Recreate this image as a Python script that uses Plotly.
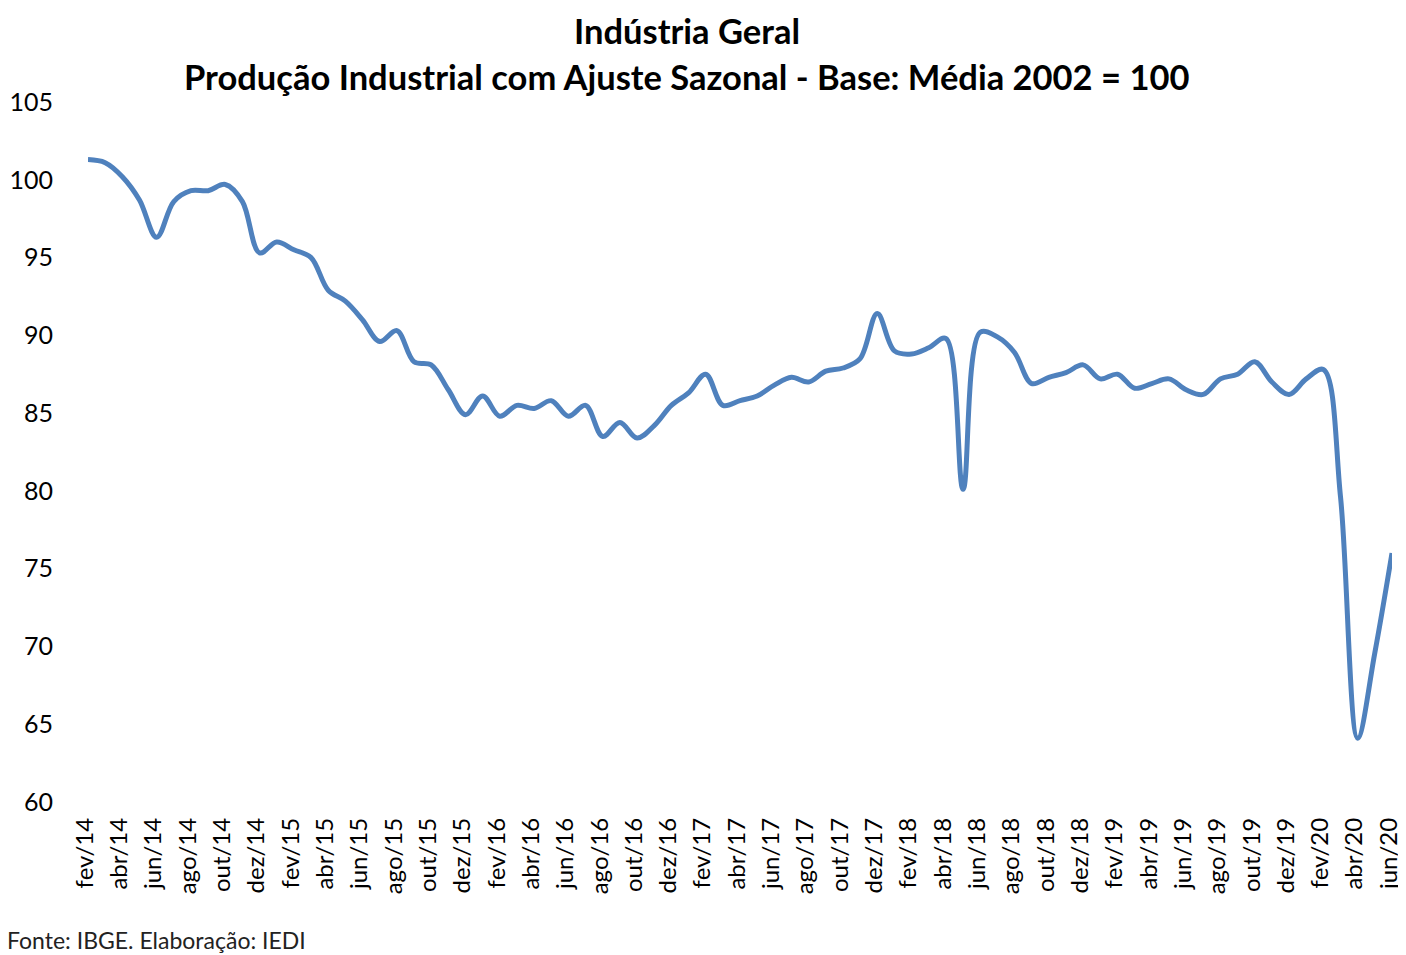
import plotly.graph_objects as go

# meses (fev/14 .. jun/20)
meses = ['jan', 'fev', 'mar', 'abr', 'mai', 'jun', 'jul', 'ago', 'set', 'out', 'nov', 'dez']
anos = ['14', '15', '16', '17', '18', '19', '20']

labels = []
for a in anos:
    for m in meses:
        labels.append(m + '/' + a)
labels = labels[1:labels.index('jun/20') + 1]

# indice de producao industrial com ajuste sazonal (media 2002 = 100)
valores = [
    101.3, 101.1, 100.2, 98.7, 96.3, 98.6, 99.3, 99.3, 99.7, 98.6, 95.3,   # 2014
    96.0, 95.5, 95.0, 92.9, 92.2, 91.0, 89.6, 90.3, 88.3, 88.1, 86.5, 84.9,  # 2015
    86.1, 84.8, 85.5, 85.3, 85.8, 84.8, 85.5, 83.5, 84.4, 83.4, 84.2, 85.5,  # 2016
    86.3, 87.5, 85.5, 85.8, 86.1, 86.8, 87.3, 87.0, 87.7, 87.9, 88.5, 91.4,  # 2017
    89.0, 88.8, 89.2, 89.8, 80.1, 90.2, 89.9, 88.9, 86.9, 87.3, 87.6, 88.1,  # 2018
    87.2, 87.5, 86.6, 86.9, 87.2, 86.5, 86.2, 87.2, 87.5, 88.3, 87.0, 86.2,  # 2019
    87.2, 87.8, 79.6, 64.1, 69.6, 76.0,                                      # 2020
]

fonte = 'Lato'

fig = go.Figure()
fig.add_trace(go.Scatter(
    x=labels, y=valores, mode='lines',
    line=dict(color='#4F81BD', width=5, shape='spline', smoothing=1),
    showlegend=False,
))

fig.update_xaxes(
    type='category', range=[0, len(labels) - 1], automargin=False,
    tickmode='array', tickvals=labels[::2], ticktext=labels[::2],
    tickangle=-90, tickfont=dict(family=fonte, size=24, color='black'),
    showgrid=False, showline=False, zeroline=False, ticks='',
    ticklabelstandoff=10, ticklabelshift=-3,
)
fig.update_yaxes(
    range=[60, 105], dtick=5, automargin=False,
    tickfont=dict(family=fonte, size=25, color='black'),
    showgrid=False, showline=False, zeroline=False, ticks='',
    ticklabelstandoff=34,
)

fig.add_annotation(text='<b>Indústria Geral</b>', xref='paper', yref='paper',
                   x=0.459, y=1.102, showarrow=False, xanchor='center', yanchor='middle',
                   font=dict(family=fonte, size=34.5, color='black'))
fig.add_annotation(text='<b>Produção Industrial com Ajuste Sazonal - Base: Média 2002 = 100</b>',
                   xref='paper', yref='paper',
                   x=0.459, y=1.037, showarrow=False, xanchor='center', yanchor='middle',
                   font=dict(family=fonte, size=34.5, color='black'))
fig.add_annotation(text='Fonte: IBGE. Elaboração: IEDI', xref='paper', yref='paper',
                   x=-0.0635, y=-0.197, showarrow=False, xanchor='left', yanchor='middle',
                   font=dict(family=fonte, size=23, color='#222222'))

# a pagina tem 8px de margem no body, por isso a figura fica 8px menor
fig.update_layout(
    width=1398, height=947,
    margin=dict(l=80, r=14, t=94, b=153),
    plot_bgcolor='white', paper_bgcolor='white',
)

fig.write_html('out.html')
